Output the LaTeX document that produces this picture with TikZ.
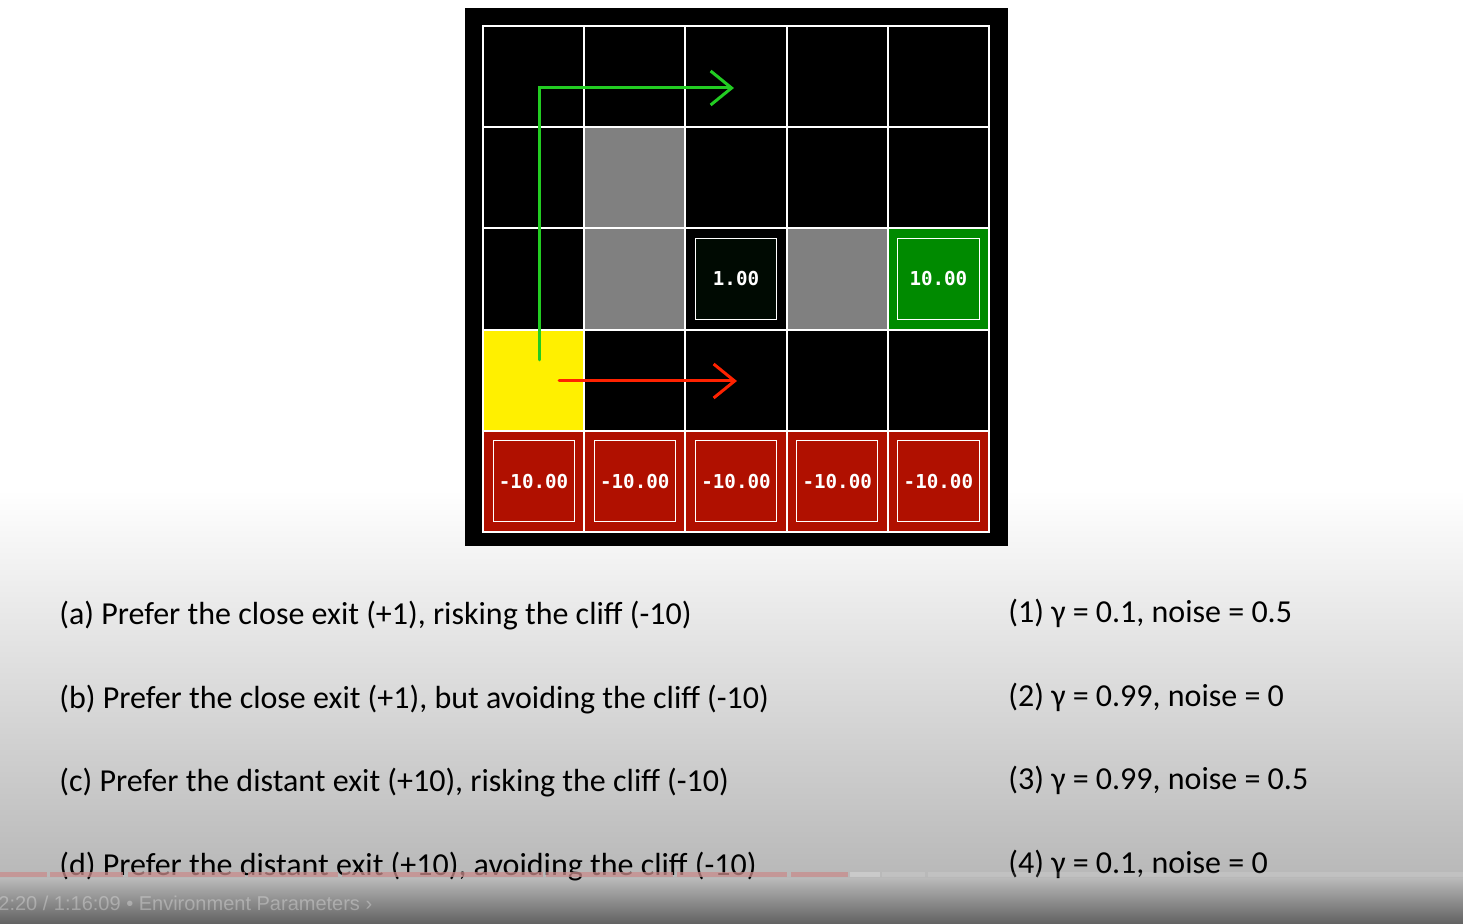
\documentclass[tikz,border=0pt]{standalone}
\usepackage{fontspec}
\setmainfont{Carlito}
\newfontfamily\cellfont{DejaVu Sans Mono}
\newfontfamily\uifont{Liberation Sans}
\usetikzlibrary{arrows.meta}
\definecolor{wallgray}{HTML}{808080}
\definecolor{startyellow}{HTML}{FFF000}
\definecolor{cliffred}{HTML}{B01000}
\definecolor{exitgreen}{HTML}{008A00}
\definecolor{exitdark}{HTML}{000A02}
\definecolor{pathgreen}{HTML}{22CC22}
\definecolor{pathred}{HTML}{FF2200}
\definecolor{barred}{HTML}{C98C8C}
\tikzset{
  cell/.style={draw=white, line width=1pt, minimum size=50.6pt, inner sep=0pt, outer sep=0pt},
  innerbox/.style={draw=white, line width=0.5pt, minimum size=40.6pt, inner sep=0pt},
  celltext/.style={text=white, font=\cellfont\bfseries\fontsize{9.6}{11}\selectfont},
  lab/.style={anchor=base west, inner sep=0pt, font=\fontsize{16}{19}\selectfont, text=black},
  pathline/.style={line width=1.5pt, line cap=round, line join=miter, -{Straight Barb[length=10.5pt, width=17pt, line width=1.5pt]}},
  barseg/.style={fill=barred, draw=none}
}
\begin{document}
\begin{tikzpicture}[x=0.5pt, y=-0.5pt]
\useasboundingbox (0,0) rectangle (1463,924);
% background
\fill[white] (0,0) rectangle (1463,492);
\shade[top color=white, bottom color=black!28] (0,490) rectangle (1463,880);
\shade[top color=black!28, bottom color=black!62] (0,879) rectangle (1463,924);
% board
\fill[black] (465,8) rectangle (1008,546);
\foreach \r in {0,...,4}{
  \foreach \c in {0,...,4}{
    \node[cell, fill=black] (c-\r-\c) at ({483+101.2*(\c+0.5)},{26+101.2*(\r+0.5)}) {};
  }
}
\node[cell, fill=wallgray] (w1) at (c-1-1) {};
\node[cell, fill=wallgray] (w2) at (c-2-1) {};
\node[cell, fill=wallgray] (w3) at (c-2-3) {};
\node[cell, fill=startyellow] (start) at (c-3-0) {};
\node[cell, fill=black] (e1cell) at (c-2-2) {};
\node[innerbox, fill=exitdark, celltext] (e1) at (c-2-2) {1.00};
\node[cell, fill=exitgreen] (e10cell) at (c-2-4) {};
\node[innerbox, fill=exitgreen, celltext] (e10) at (c-2-4) {10.00};
\foreach \c in {0,...,4}{
  \node[cell, fill=cliffred] (cl\c) at (c-4-\c) {};
  \node[innerbox, fill=cliffred, celltext] (clb\c) at (c-4-\c) {-10.00};
}
% paths
\coordinate (g0) at (539,360);
\coordinate (g2) at (734,88);
\draw[pathline, pathgreen] (g0) |- (g2);
\coordinate (r0) at (559,381);
\coordinate (r1) at (737,381);
\draw[pathline, pathred] (r0) -- (r1);
% labels
\node[lab] (ta) at (59,625) {(a) Prefer the close exit (+1), risking the cliff (-10)};
\node[lab] (tb) at (59,709) {(b) Prefer the close exit (+1), but avoiding the cliff (-10)};
\node[lab] (tc) at (59,792) {(c) Prefer the distant exit (+10), risking the cliff (-10)};
\node[lab] (td) at (59,876) {(d) Prefer the distant exit (+10), avoiding the cliff (-10)};
\node[lab] (t1) at (1008,623) {(1) γ = 0.1, noise = 0.5};
\node[lab] (t2) at (1008,707) {(2) γ = 0.99, noise = 0};
\node[lab] (t3) at (1008,790) {(3) γ = 0.99, noise = 0.5};
\node[lab] (t4) at (1008,874) {(4) γ = 0.1, noise = 0};
% video progress bar overlay
\begin{scope}[opacity=0.75]
\fill[barseg] (0,872) rectangle (47,877);
\fill[barseg] (50,872) rectangle (123,877);
\fill[barseg] (128,872) rectangle (245,877);
\fill[barseg] (248,872) rectangle (338,877);
\fill[barseg] (342,872) rectangle (543,877);
\fill[barseg] (546,872) rectangle (673,877);
\fill[barseg] (677,872) rectangle (787,877);
\fill[barseg] (791,872) rectangle (848,877);
\fill[white, opacity=0.25] (850,872) rectangle (880,877);
\fill[white, opacity=0.12] (882,872) rectangle (925,877);
\fill[white, opacity=0.12] (928,872) rectangle (1463,877);
\end{scope}
\node[anchor=base west, inner sep=0pt, text=white, opacity=0.3, font=\uifont\fontsize{10}{12}\selectfont] (time) at (-2,910) {2:20 / 1:16:09 • Environment Parameters ›};
\end{tikzpicture}
\end{document}
